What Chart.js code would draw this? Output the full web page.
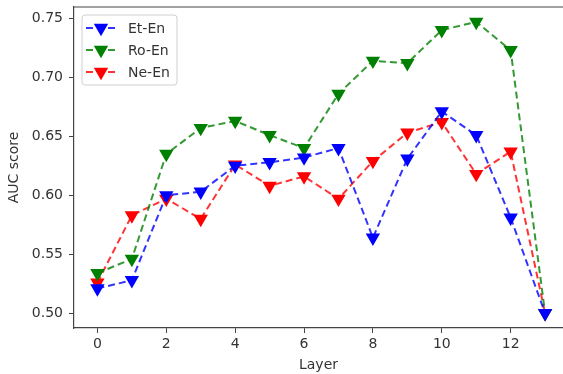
<!DOCTYPE html>
<html>
<head>
<meta charset="utf-8">
<script src="https://cdn.jsdelivr.net/npm/chart.js@4.4.1/dist/chart.umd.min.js"></script>
<style>
  html, body { margin: 0; padding: 0; background: #fff; overflow: hidden; }
  canvas { display: block; }
</style>
</head>
<body>
<canvas id="chart" width="563" height="374" style="width:563px;height:374px"></canvas>
<script>
// layers 0..13
const layers = [0, 1, 2, 3, 4, 5, 6, 7, 8, 9, 10, 11, 12, 13];
const etEn = [0.521, 0.528, 0.600, 0.603, 0.625, 0.628, 0.632, 0.640, 0.564, 0.631, 0.671, 0.651, 0.581, 0.500];
const roEn = [0.534, 0.546, 0.635, 0.657, 0.663, 0.651, 0.640, 0.686, 0.714, 0.712, 0.740, 0.747, 0.723, 0.500];
const neEn = [0.526, 0.583, 0.597, 0.580, 0.626, 0.608, 0.616, 0.597, 0.629, 0.653, 0.662, 0.618, 0.637, 0.500];
const xTicks = [0, 2, 4, 6, 8, 10, 12];
const yTicks = [0.50, 0.55, 0.60, 0.65, 0.70, 0.75];

const FONT = 'DejaVu Sans';
const TEXT = '#333';
const AXIS = '#444';

function series(label, values, color, lineColor) {
  return {
    label: label,
    data: layers.map((l, i) => ({ x: l, y: values[i] })),
    borderColor: lineColor,
    backgroundColor: color,
    pointBackgroundColor: color,
    pointBorderColor: color,
    borderWidth: 2,
    borderDash: [7, 4],
    pointStyle: 'triangle',
    pointRotation: 180,
    pointRadius: 6.3,
    pointHoverRadius: 6.3,
    tension: 0,
    fill: false
  };
}

// matplotlib style legend box in the upper left of the plot
const boxLegend = {
  id: 'boxLegend',
  afterDatasetsDraw(chart) {
    const ctx = chart.ctx;
    const x0 = 82, y0 = 15, w = 95, h = 70, rowH = 22;
    ctx.save();
    ctx.setLineDash([]);
    ctx.beginPath();
    ctx.roundRect(x0, y0, w, h, 3);
    ctx.fillStyle = 'rgba(255,255,255,0.8)';
    ctx.fill();
    ctx.strokeStyle = '#d0d0d0';
    ctx.lineWidth = 1;
    ctx.stroke();
    chart.data.datasets.forEach((ds, i) => {
      const y = y0 + 13 + i * rowH;
      ctx.beginPath();
      ctx.setLineDash([7, 4]);
      ctx.strokeStyle = ds.borderColor;
      ctx.lineWidth = 2;
      ctx.moveTo(86, y);
      ctx.lineTo(116, y);
      ctx.stroke();
      ctx.setLineDash([]);
      ctx.fillStyle = ds.pointBackgroundColor;
      ctx.strokeStyle = ds.pointBorderColor;
      Chart.helpers.drawPoint(ctx, { pointStyle: 'triangle', rotation: 180, radius: 6.3, borderWidth: 1 }, 101, y);
      ctx.fillStyle = TEXT;
      ctx.font = '14px "' + FONT + '"';
      ctx.textBaseline = 'middle';
      ctx.textAlign = 'left';
      ctx.fillText(ds.label, 128, y + 1);
    });
    ctx.restore();
  }
};

// top spine; the right spine falls just outside the picture
const topSpine = {
  id: 'topSpine',
  afterDraw(chart) {
    const a = chart.chartArea, ctx = chart.ctx;
    ctx.save();
    ctx.fillStyle = '#fff';
    ctx.fillRect(a.right - 4, a.top + 1, 4, a.bottom - a.top - 2);
    ctx.strokeStyle = AXIS;
    ctx.lineWidth = 1.2;
    ctx.beginPath();
    ctx.moveTo(a.left, a.top);
    ctx.lineTo(a.right, a.top);
    ctx.stroke();
    ctx.restore();
  }
};

new Chart(document.getElementById('chart'), {
  type: 'line',
  data: {
    datasets: [
      series('Et-En', etEn, '#0000ff', 'rgba(0,0,255,0.8)'),
      series('Ro-En', roEn, '#008000', 'rgba(0,128,0,0.8)'),
      series('Ne-En', neEn, '#ff0000', 'rgba(255,0,0,0.8)')
    ]
  },
  options: {
    responsive: false,
    animation: false,
    layout: { autoPadding: false, padding: { top: 7, right: 0, left: 0, bottom: 0 } },
    plugins: {
      legend: { display: false },
      tooltip: { enabled: false }
    },
    scales: {
      x: {
        type: 'linear',
        min: -0.68,
        max: 13.52,
        afterBuildTicks: s => { s.ticks = xTicks.map(v => ({ value: v })); },
        afterFit: s => { s.height = 46; },
        grid: { drawOnChartArea: false, drawTicks: true, tickLength: 5, color: AXIS },
        border: { display: true, color: AXIS, width: 1.2 },
        ticks: { color: TEXT, padding: 3, font: { family: FONT, size: 14 }, maxRotation: 0 },
        title: { display: true, text: 'Layer', color: TEXT, font: { family: FONT, size: 14 }, padding: { top: 0, bottom: 0 } }
      },
      y: {
        min: 0.4875,
        max: 0.7596,
        afterBuildTicks: s => { s.ticks = yTicks.map(v => ({ value: v })); },
        afterFit: s => { s.width = 74; s.paddingTop = 0; s.paddingBottom = 0; },
        grid: { drawOnChartArea: false, drawTicks: true, tickLength: 5, color: AXIS },
        border: { display: true, color: AXIS, width: 1.2 },
        ticks: { color: TEXT, padding: 6, font: { family: FONT, size: 14 }, callback: v => v.toFixed(2) },
        title: { display: true, text: 'AUC score', color: TEXT, font: { family: FONT, size: 14 }, padding: { top: 6, bottom: 0 } }
      }
    }
  },
  plugins: [boxLegend, topSpine]
});
</script>
</body>
</html>
